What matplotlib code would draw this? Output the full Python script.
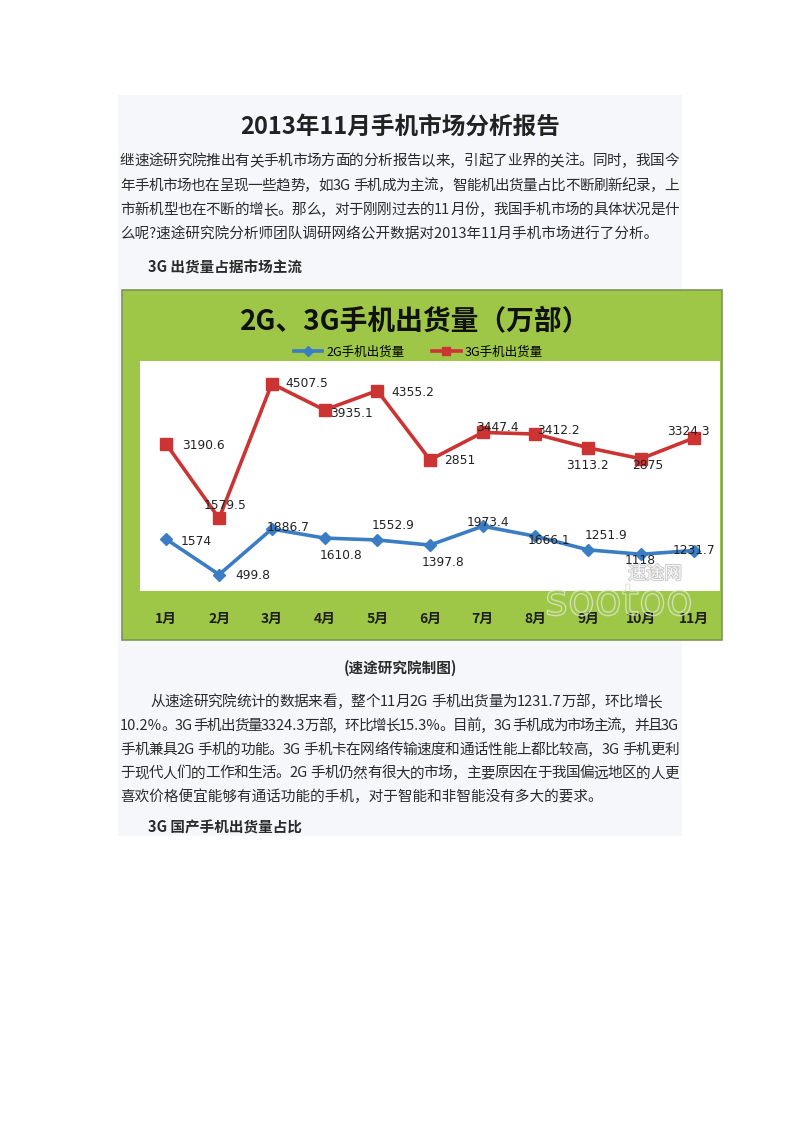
import re
import numpy as np
import matplotlib.pyplot as plt
from matplotlib.patches import Rectangle, PathPatch
from matplotlib.textpath import TextPath
from matplotlib.font_manager import FontProperties
import matplotlib.transforms as mtransforms
import matplotlib.patheffects as pe

plt.rcParams['font.family'] = ['Noto Sans CJK SC', 'DejaVu Sans']

# chart data
months = ['1月', '2月', '3月', '4月', '5月', '6月', '7月', '8月', '9月', '10月', '11月']
shipments_2g = [1574, 499.8, 1886.7, 1610.8, 1552.9, 1397.8, 1973.4, 1666.1, 1251.9, 1118, 1231.7]
shipments_3g = [3190.6, 1579.5, 4507.5, 3935.1, 4355.2, 2851, 3447.4, 3412.2, 3113.2, 2875, 3324.3]

# where each value label sits relative to its marker (pixels, right / down)
label_off_2g = [(30, 2), (34, 1), (16, -2), (17, 17), (16, -14), (13, 17), (5, -4), (14, 4), (18, -14), (-1, 6), (0, 0)]
label_off_3g = [(37, 1), (6, -13), (35, 0), (27, 4), (36, 2), (30, 1), (15, -5), (23, -4), (-1, 18), (7, 7), (-5, -7)]

title = '2013年11月手机市场分析报告'
intro = [
    '继速途研究院推出有关手机市场方面的分析报告以来，引起了业界的关注。同时，我国今',
    '年手机市场也在呈现一些趋势，如3G 手机成为主流，智能机出货量占比不断刷新纪录，上',
    '市新机型也在不断的增长。那么，对于刚刚过去的11月份，我国手机市场的具体状况是什',
    '么呢?速途研究院分析师团队调研网络公开数据对2013年11月手机市场进行了分析。',
]
body = [
    '从速途研究院统计的数据来看，整个11月2G 手机出货量为1231.7万部，环比增长',
    '10.2%。3G 手机出货量3324.3万部，环比增长15.3%。目前，3G 手机成为市场主流，并且3G',
    '手机兼具2G 手机的功能。3G 手机卡在网络传输速度和通话性能上都比较高，3G 手机更利',
    '于现代人们的工作和生活。2G 手机仍然有很大的市场，主要原因在于我国偏远地区的人更',
    '喜欢价格便宜能够有通话功能的手机，对于智能和非智能没有多大的要求。',
]

W, H = 800, 1132


def fx(px):
    return px / W


def fy(py):
    return 1 - py / H


fig = plt.figure(figsize=(8, 11.32), dpi=100)
fig.patch.set_facecolor('white')
renderer = fig.canvas.get_renderer()


def justify(line, x0, x1, y, **kw):
    # ascii runs stay whole, the spare room goes between the pieces
    pieces = re.findall(r'[0-9A-Za-z.%?]+| |.', line)
    texts = [fig.text(0, fy(y), p, ha='left', va='center', **kw) for p in pieces]
    widths = [t.get_window_extent(renderer).width for t in texts]
    gap = (x1 - x0 - sum(widths)) / (len(texts) - 1)
    pos = x0
    for t, w in zip(texts, widths):
        t.set_x(fx(pos))
        pos += w + gap


# light page panel and green chart frame
fig.patches.append(Rectangle((fx(118), fy(836)), fx(682) - fx(118), fy(95) - fy(836),
                             transform=fig.transFigure, facecolor='#f5f7fb', edgecolor='none', zorder=-3))
fig.patches.append(Rectangle((fx(122), fy(640)), fx(722) - fx(122), fy(290) - fy(640),
                             transform=fig.transFigure, facecolor='#9ec747', edgecolor='#7b9656',
                             linewidth=1.2, zorder=-2))

# page text
txt = '#2b2b2b'
fig.text(fx(400), fy(127), title, ha='center', va='center', fontsize=17, fontweight='bold', color='#222222')
for i, line in enumerate(intro):
    if i < len(intro) - 1:
        justify(line, 120, 679, 161 + i * 24.5, fontsize=10.5, color=txt)
    else:
        fig.text(fx(120), fy(161 + i * 24.5), line, ha='left', va='center', fontsize=10.5, color=txt)
fig.text(fx(148), fy(268), '3G 出货量占据市场主流', ha='left', va='center', fontsize=10.5,
         fontweight='bold', color=txt)
fig.text(fx(400), fy(668), '(速途研究院制图)', ha='center', va='center', fontsize=10.5,
         fontweight='bold', color=txt)
for i, line in enumerate(body):
    y = 702 + i * 23.8
    if i == 0:
        justify(line, 150, 662, y, fontsize=10.5, color=txt)
    elif i < len(body) - 1:
        justify(line, 120, 679, y, fontsize=10.5, color=txt)
    else:
        fig.text(fx(120), fy(y), line, ha='left', va='center', fontsize=10.5, color=txt)
fig.text(fx(148), fy(828), '3G 国产手机出货量占比', ha='left', va='center', fontsize=10.5,
         fontweight='bold', color=txt)

# chart
fig.text(fx(415), fy(322), '2G、3G手机出货量（万部）', ha='center', va='center', fontsize=20,
         fontweight='bold', color='#111111')

ax = fig.add_axes([fx(140), fy(591), fx(720) - fx(140), fy(361) - fy(591)])
ax.set_facecolor('white')
ax2 = ax.twinx()

x = np.arange(len(months))
blue = '#3b7dc4'
red = '#cc3434'
l2, = ax.plot(x, shipments_2g, color=blue, lw=2.6, marker='D', ms=6.5, label='2G手机出货量')
l3, = ax2.plot(x, shipments_3g, color=red, lw=2.6, marker='s', ms=8, label='3G手机出货量')

ax.set_ylim(0, 7000)
ax2.set_ylim(0, 5000)
ax.set_xlim(-0.5, 10.5)

for a in (ax, ax2):
    for s in a.spines.values():
        s.set_visible(False)
    a.set_yticks([])
ax.set_xticks(x)
ax.set_xticklabels(months, fontsize=10, fontweight='bold', color='#1e1e1e')
ax.tick_params(axis='x', length=0, pad=15)

for i, v in enumerate(shipments_2g):
    dx, dy = label_off_2g[i]
    ax.annotate(f'{v:g}', (x[i], v), xytext=(dx, -dy), textcoords='offset pixels',
                ha='center', va='center', fontsize=8.8, color='#222222', family='DejaVu Sans')
for i, v in enumerate(shipments_3g):
    dx, dy = label_off_3g[i]
    ax2.annotate(f'{v:g}', (x[i], v), xytext=(dx, -dy), textcoords='offset pixels',
                 ha='center', va='center', fontsize=8.8, color='#222222', family='DejaVu Sans')

fig.legend([l2, l3], ['2G手机出货量', '3G手机出货量'], loc='center',
           bbox_to_anchor=(fx(418), fy(352)), ncol=2, frameon=False, fontsize=9,
           handlelength=2.3, columnspacing=2.2, handletextpad=0.3, markerscale=0.8)

# faint watermark: outlined "sootoo" plus the site name
wm = TextPath((0, 0), 'sootoo', size=44, prop=FontProperties(family='DejaVu Sans'))
wm_tr = mtransforms.Affine2D().translate(545, H - 615)
fig.patches.append(PathPatch(wm, transform=wm_tr, facecolor='none', edgecolor='#dde5cf',
                             linewidth=1.0, alpha=0.8, zorder=5))
fig.text(fx(655), fy(574), '速途网', ha='center', va='center', fontsize=13, style='italic',
         color='white', alpha=0.9, path_effects=[pe.withStroke(linewidth=1.2, foreground='#c0c0c0')])

fig.savefig('out.png', dpi=100)
